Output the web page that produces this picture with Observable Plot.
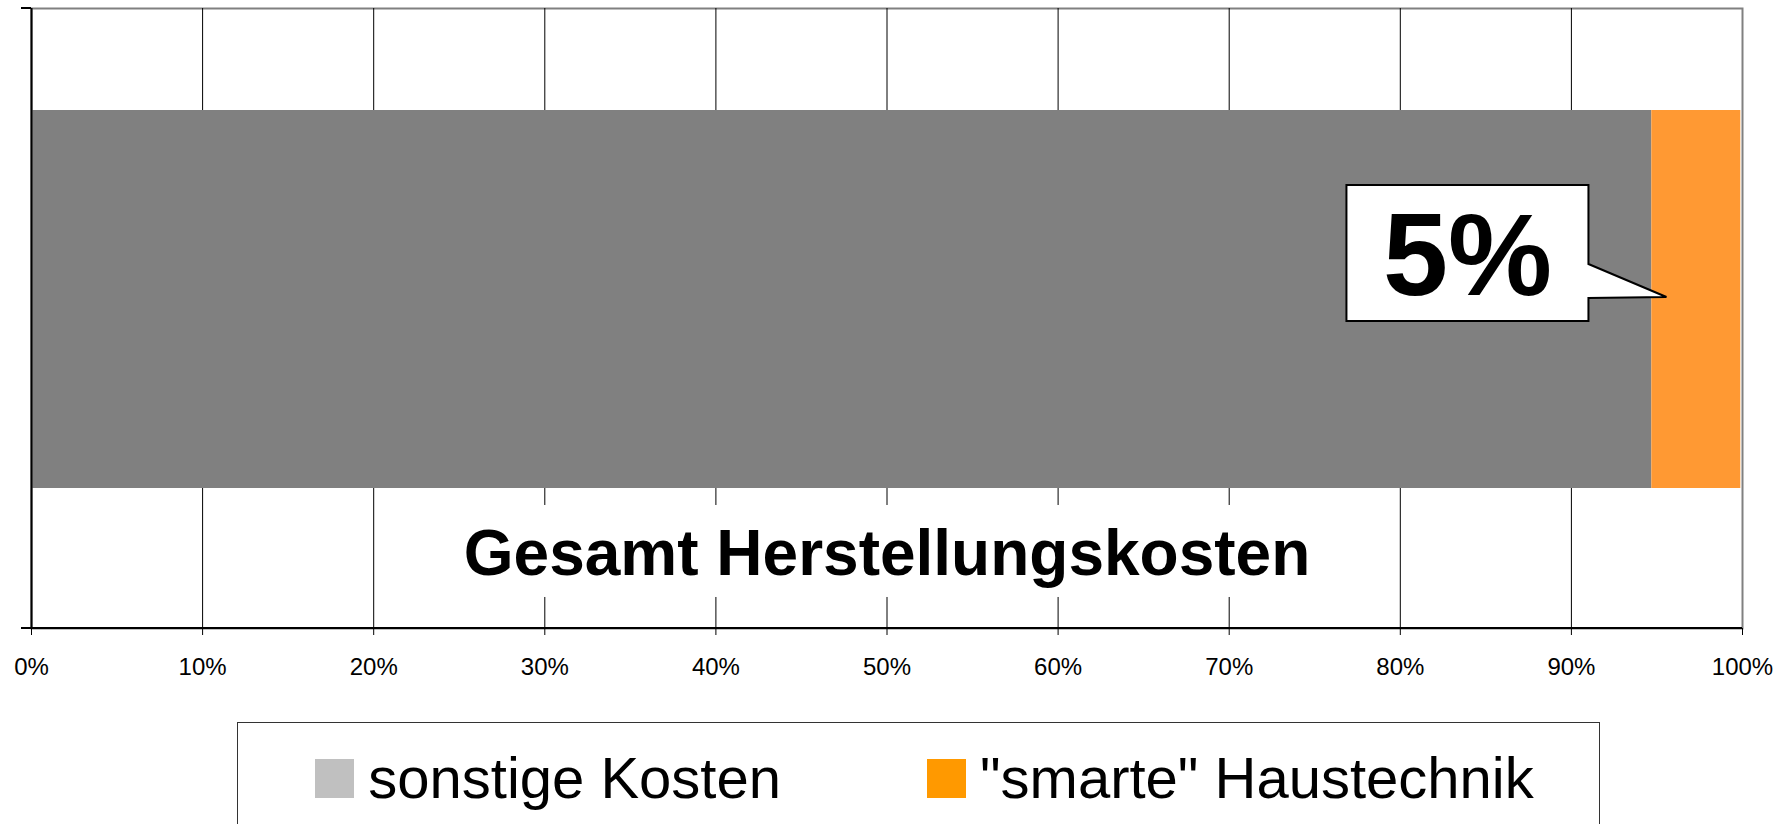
<!DOCTYPE html>
<html>
<head>
<meta charset="utf-8">
<script src="https://cdn.jsdelivr.net/npm/d3@7"></script>
<script src="https://cdn.jsdelivr.net/npm/@observablehq/plot@0.6"></script>
<style>
  html, body { margin: 0; padding: 0; background: #fff; }
  body { position: relative; width: 1788px; height: 824px; overflow: hidden; font-family: Arial, "Liberation Sans", sans-serif; }
  #chart { position: absolute; left: 0; top: 0; }
  #legend {
    position: absolute; left: 237px; top: 722px; width: 1349px; height: 140px;
    border: 1.5px solid #333; background: #fff; box-sizing: content-box;
    display: flex; justify-content: center; align-items: flex-start; gap: 146px;
    padding-top: 22px; padding-left: 12px;
  }
  .item { display: flex; align-items: center; gap: 14px; font-size: 58px; color: #000; line-height: 1.149; }
  .sw { width: 39px; height: 39px; display: inline-block; }
</style>
</head>
<body>
<div id="chart"></div>
<div id="legend"></div>
<script>
// ---- data ----
const categories = ["Gesamt Herstellungskosten"];
const series = ["sonstige Kosten", "\"smarte\" Haustechnik"];
const values = [94.7, 5.2];
const barColors = ["#808080", "#FF9933"];
const legendColors = ["#C0C0C0", "#FF9900"];
const xTicks = [0, 10, 20, 30, 40, 50, 60, 70, 80, 90, 100];
const xDomain = [0, 100];
const calloutText = "5%";
const calloutSeries = series[1];

const data = series.map((s, i) => ({category: categories[0], series: s, value: values[i]}));

const W = 1788, H = 700;
const mL = 31, mR = 46, mT = 8, mB = 72;
const barInsetTop = 102, barInsetBottom = 140;
const font = "Arial, 'Liberation Sans', sans-serif";

const plot = Plot.plot({
  width: W, height: H,
  marginLeft: mL, marginRight: mR, marginTop: mT, marginBottom: mB,
  style: {fontFamily: font, background: "white", overflow: "visible", color: "#000"},
  x: {domain: xDomain, axis: null},
  y: {domain: categories, padding: 0, axis: null},
  color: {domain: series, range: barColors},
  marks: [
    Plot.frame({stroke: "#808080", strokeWidth: 2}),
    Plot.ruleX(xTicks.filter(t => t > xDomain[0] && t < xDomain[1]), {stroke: "#000", strokeWidth: 1}),
    Plot.text(categories, {
      x: () => (xDomain[0] + xDomain[1]) / 2, y: d => d, text: d => d,
      fontSize: 64, fontWeight: "bold", fill: "#000", lineAnchor: "middle", dy: 236
    }),
    Plot.barX(data, Plot.stackX({x: "value", y: "category", fill: "series", insetTop: barInsetTop, insetBottom: barInsetBottom})),
    Plot.ruleX([xDomain[0]], {stroke: "#000", strokeWidth: 2}),
    Plot.axisX({ticks: xTicks, tickFormat: d => d + "%", tickSize: 7, tickPadding: 22, fontSize: 24, stroke: "#000", fill: "#000", label: null})
  ]
});

document.getElementById("chart").appendChild(plot);

(function decorate() {
  const svg = d3.select(plot);
  const xs = plot.scale("x");
  const ys = plot.scale("y");
  const X = v => xs.apply(v);

  // bottom axis line and category boundary ticks
  const yTop = mT, yBot = H - mB;
  svg.append("line").attr("x1", mL).attr("x2", W - mR).attr("y1", yBot).attr("y2", yBot)
    .attr("stroke", "#000").attr("stroke-width", 2);
  [yTop, yBot].forEach(y => {
    svg.append("line").attr("x1", mL - 10).attr("x2", mL).attr("y1", y).attr("y2", y)
      .attr("stroke", "#000").attr("stroke-width", 2);
  });

  // white box behind category label
  const svgRect = plot.getBoundingClientRect();
  svg.selectAll("text").filter(function() { return this.textContent === categories[0]; }).each(function() {
    const r = this.getBoundingClientRect();
    const g = this.parentNode;
    const padX = 13, padT = 12, padB = 8;
    d3.select(g.parentNode).insert("rect", () => g)
      .attr("x", r.left - svgRect.left - padX).attr("y", r.top - svgRect.top - padT)
      .attr("width", r.width + 2 * padX).attr("height", r.height + padT + padB)
      .attr("fill", "#fff");
  });

  // callout for the smarte segment
  const idx = series.indexOf(calloutSeries);
  const start = values.slice(0, idx).reduce((a, b) => a + b, 0);
  const tx = X(start + values[idx] * 0.17);
  const bandStart = ys.apply(categories[0]);
  const bw = ys.bandwidth;
  const ty = (bandStart + barInsetTop + bandStart + bw - barInsetBottom) / 2 - 2;
  const bx0 = tx - 320, bx1 = tx - 78, by0 = ty - 112, by1 = ty + 24;
  const pTop = ty - 33, pBot = ty + 1;
  const path = `M${bx0},${by0}H${bx1}V${pTop}L${tx},${ty}L${bx1},${pBot}V${by1}H${bx0}Z`;
  const cg = svg.append("g");
  cg.append("path").attr("d", path).attr("fill", "#fff").attr("stroke", "#000").attr("stroke-width", 2).attr("stroke-linejoin", "miter");
  cg.append("text").attr("x", (bx0 + bx1) / 2).attr("y", ty - 2)
    .attr("text-anchor", "middle").attr("font-family", font).attr("font-weight", "bold")
    .attr("font-size", 117).attr("fill", "#000").text(calloutText);

  // legend
  const legend = d3.select("#legend");
  series.forEach((s, i) => {
    const it = legend.append("div").attr("class", "item");
    it.append("span").attr("class", "sw").style("background", legendColors[i]);
    it.append("span").text(s);
  });
})();
</script>
</body>
</html>
